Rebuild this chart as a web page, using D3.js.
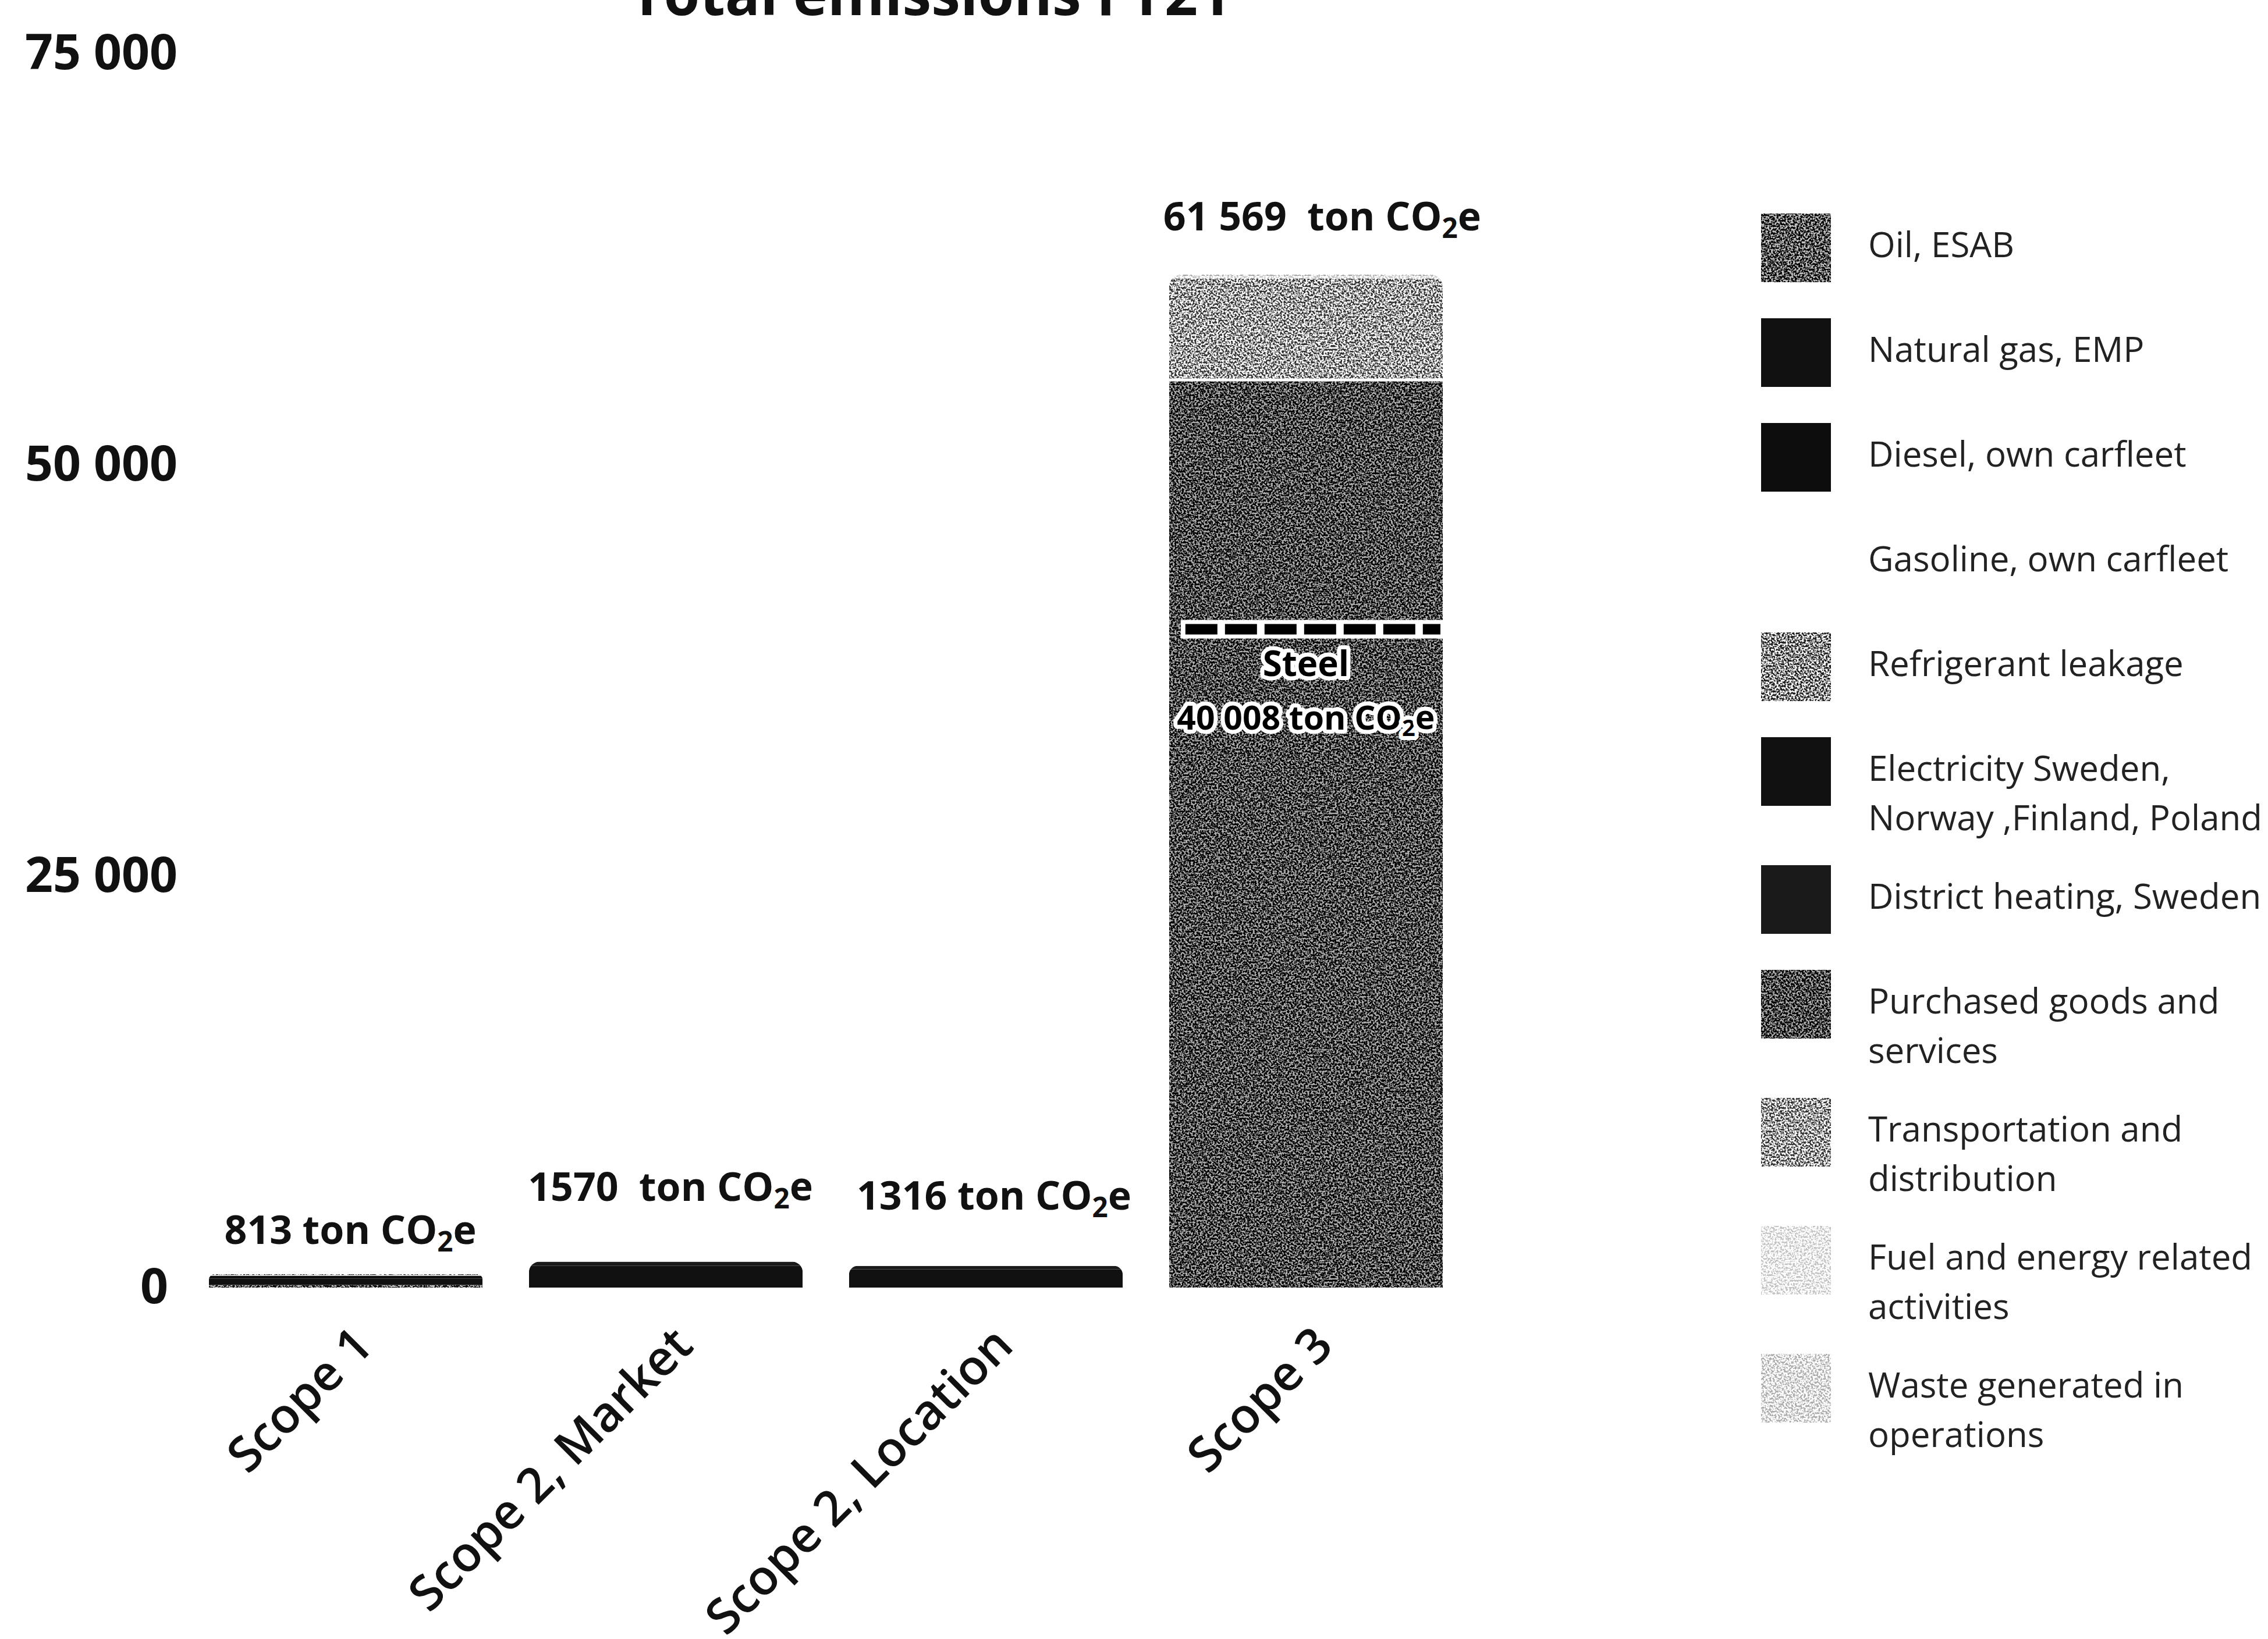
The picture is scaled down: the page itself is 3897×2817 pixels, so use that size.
<!DOCTYPE html>
<html>
<head>
<meta charset="utf-8">
<script src="https://cdn.jsdelivr.net/npm/d3@7"></script>
<style>
  html, body { margin: 0; padding: 0; background: #fff; }
  svg { display: block; font-family: "Open Sans", "Noto Sans", sans-serif; }
</style>
</head>
<body>
<svg id="chart"></svg>
<script>
// bars (x categories)
const scopes = ["Scope 1", "Scope 2, Market", "Scope 2, Location", "Scope 3"];

// one series per emission source, value per scope (ton CO2e)
const oilESAB        = [160, 0, 0, 0];
const naturalGasEMP  = [390, 0, 0, 0];
const dieselFleet    = [170, 0, 0, 0];
const gasolineFleet  = [45, 0, 0, 0];
const refrigerant    = [48, 0, 0, 0];
const electricity    = [0, 1330, 1110, 0];
const districtHeat   = [0, 240, 206, 0];
const purchasedGoods = [0, 0, 0, 55160];
const transportation = [0, 0, 0, 6150];
const fuelEnergy     = [0, 0, 0, 200];
const wasteOps       = [0, 0, 0, 59];

const categories = [
  "Oil, ESAB", "Natural gas, EMP", "Diesel, own carfleet", "Gasoline, own carfleet",
  "Refrigerant leakage", "Electricity Sweden, Norway ,Finland, Poland", "District heating, Sweden",
  "Purchased goods and services", "Transportation and distribution",
  "Fuel and energy related activities", "Waste generated in operations"
];
const seriesValues = [oilESAB, naturalGasEMP, dieselFleet, gasolineFleet, refrigerant,
  electricity, districtHeat, purchasedGoods, transportation, fuelEnergy, wasteOps];

// legend text, split as in the picture
const legendLines = [
  ["Oil, ESAB"], ["Natural gas, EMP"], ["Diesel, own carfleet"], ["Gasoline, own carfleet"],
  ["Refrigerant leakage"], ["Electricity Sweden,", "Norway ,Finland, Poland"], ["District heating, Sweden"],
  ["Purchased goods and", "services"], ["Transportation and", "distribution"],
  ["Fuel and energy related", "activities"], ["Waste generated in", "operations"]
];

const totalLabels = ["813", "1570 ", "1316", "61 569 "];
const steelValue = 40008;
const steelLabel = "40 008";

const yTicks = [0, 25000, 50000, 75000];
const yTickLabels = ["0", "25 000", "50 000", "75 000"];

const titleText = "Total emissions FY21";

// ---- styles / layout ----
const colors = ["#505050", "#111111", "#0d0d0d", "#ffffff", "#8c8c8c", "#111111", "#1a1a1a",
  "#424242", "#a2a2a2", "#efefef", "#e4e4e4"];
// speckle strength per category (scanned look of the source)
const grain = [0.9, 0, 0, 0, 0.9, 0, 0, 0.85, 0.9, 0.35, 0.45];
const labelGap = [52, 105, 97, 76];
const labelShift = [8, 8, 14, 28];

const W = 3897, H = 2817;
const svg = d3.select("#chart").attr("width", W).attr("height", H);

const x = d3.scaleBand().domain(scopes).range([359, 2479]).paddingInner(0.145).paddingOuter(0);
const y = d3.scaleLinear().domain([0, 75000]).range([2213, 92]);

const rows = scopes.map((s, i) => {
  const r = { scope: s };
  categories.forEach((c, k) => { r[c] = seriesValues[k][i]; });
  return r;
});
const stacked = d3.stack().keys(categories)(rows);
const totals = rows.map(r => d3.sum(categories, c => r[c]));

const defs = svg.append("defs");

// noise filters
function makeGrain(id, k) {
  const f = defs.append("filter").attr("id", id)
    .attr("x", 0).attr("y", 0).attr("width", 1).attr("height", 1)
    .attr("color-interpolation-filters", "sRGB");
  f.append("feTurbulence").attr("type", "fractalNoise")
    .attr("baseFrequency", 0.32).attr("numOctaves", 2).attr("seed", 7).attr("result", "n");
  f.append("feColorMatrix").attr("in", "n").attr("type", "matrix")
    .attr("values", "1 0 0 0 0  1 0 0 0 0  1 0 0 0 0  0 0 0 0 1").attr("result", "g");
  const ct = f.append("feComponentTransfer").attr("in", "g").attr("result", "c");
  ["feFuncR", "feFuncG", "feFuncB"].forEach(fn =>
    ct.append(fn).attr("type", "linear").attr("slope", 5).attr("intercept", -2));
  f.append("feComposite").attr("in", "SourceGraphic").attr("in2", "c")
    .attr("operator", "arithmetic").attr("k1", 0).attr("k2", 1).attr("k3", k).attr("k4", -k / 2)
    .attr("result", "m");
  f.append("feComposite").attr("in", "m").attr("in2", "SourceGraphic").attr("operator", "in");
}
grain.forEach((k, i) => { if (k > 0) makeGrain("grain" + i, k); });
const grainAttr = k => grain[k] > 0 ? `url(#grain${k})` : null;

// title (cut at the top edge like the source)
svg.append("text")
  .attr("x", 1599).attr("y", 26)
  .attr("text-anchor", "middle")
  .attr("font-size", 100).attr("font-weight", 700)
  .attr("fill", "#111")
  .text(titleText);

// clip paths with rounded top corners
scopes.forEach((s, i) => {
  const x0 = x(s), w = x.bandwidth();
  const top = y(totals[i]), bot = y(0);
  const r = Math.min(22, (bot - top) * 0.4);
  const p = d3.path();
  p.moveTo(x0, bot);
  p.lineTo(x0, top + r);
  p.arcTo(x0, top, x0 + r, top, r);
  p.lineTo(x0 + w - r, top);
  p.arcTo(x0 + w, top, x0 + w, top + r, r);
  p.lineTo(x0 + w, bot);
  p.closePath();
  defs.append("clipPath").attr("id", "clip" + i).append("path").attr("d", p.toString());
});

const barsG = svg.append("g");
scopes.forEach((s, i) => {
  const g = barsG.append("g").attr("clip-path", `url(#clip${i})`);
  stacked.forEach((layer, k) => {
    const d = layer[i];
    const h = y(d[0]) - y(d[1]);
    if (h <= 0) return;
    g.append("rect")
      .attr("x", x(s)).attr("width", x.bandwidth())
      .attr("y", y(d[1])).attr("height", h)
      .attr("fill", colors[k])
      .attr("filter", grainAttr(k));
  });
  // white separators between big segments
  stacked.forEach((layer, k) => {
    const d = layer[i];
    const h = y(d[0]) - y(d[1]);
    if (h >= 30 && d[0] > 0) {
      g.append("line")
        .attr("x1", x(s)).attr("x2", x(s) + x.bandwidth())
        .attr("y1", y(d[0])).attr("y2", y(d[0]))
        .attr("stroke", "#fff").attr("stroke-width", 5);
    }
  });
});

// steel marker inside Scope 3
const s3 = scopes[3];
const sy = y(steelValue);
const steelG = svg.append("g");
steelG.append("line")
  .attr("x1", x(s3) + 20).attr("x2", x(s3) + x.bandwidth())
  .attr("y1", sy).attr("y2", sy)
  .attr("stroke", "#fff").attr("stroke-width", 32);
steelG.append("line")
  .attr("x1", x(s3) + 28).attr("x2", x(s3) + x.bandwidth() - 4)
  .attr("y1", sy).attr("y2", sy)
  .attr("stroke", "#000").attr("stroke-width", 18)
  .attr("stroke-dasharray", "55 13");
const scx = x(s3) + x.bandwidth() / 2;
function haloText(g, ty, size) {
  return g.append("text")
    .attr("x", scx).attr("y", ty)
    .attr("text-anchor", "middle")
    .attr("font-size", size).attr("font-weight", 700)
    .attr("fill", "#000")
    .attr("stroke", "#fff").attr("stroke-width", 14)
    .attr("stroke-linejoin", "round")
    .attr("paint-order", "stroke");
}
haloText(steelG, sy + 80, 60).text("Steel");
const st = haloText(steelG, sy + 172, 57);
st.append("tspan").text(steelLabel + " ton CO");
st.append("tspan").attr("font-size", "70%").attr("dy", "0.28em").text("2");
st.append("tspan").attr("dy", "-0.2em").text("e");

// value labels above the bars
scopes.forEach((s, i) => {
  const t = svg.append("text")
    .attr("x", x(s) + x.bandwidth() / 2 + labelShift[i])
    .attr("y", y(totals[i]) - labelGap[i])
    .attr("text-anchor", "middle")
    .attr("font-size", 68).attr("font-weight", 700)
    .attr("fill", "#111")
    .style("white-space", "pre");
  t.append("tspan").text(totalLabels[i] + " ton CO");
  t.append("tspan").attr("font-size", "70%").attr("dy", "0.28em").text("2");
  t.append("tspan").attr("dy", "-0.2em").text("e");
});

// y axis (labels only)
const yAxis = svg.append("g")
  .attr("transform", "translate(305,0)")
  .call(d3.axisLeft(y).tickValues(yTicks).tickFormat((d, i) => yTickLabels[i]).tickSize(0).tickPadding(0));
yAxis.select(".domain").remove();
yAxis.selectAll("text")
  .attr("font-family", "'Open Sans', sans-serif")
  .attr("font-size", 84).attr("font-weight", 700).attr("fill", "#111")
  .attr("dx", d => d === 0 ? -16 : 0);

// x axis, rotated labels
const xAxis = svg.append("g")
  .attr("transform", `translate(0,${y(0)})`)
  .call(d3.axisBottom(x).tickSize(0));
xAxis.select(".domain").remove();
xAxis.selectAll("text")
  .attr("x", 0).attr("y", 0).attr("dy", "0.35em")
  .attr("transform", "translate(30,83) rotate(-45)")
  .attr("text-anchor", "end")
  .attr("font-family", "'Open Sans', sans-serif")
  .attr("font-size", 84).attr("font-weight", 600).attr("fill", "#111");

// legend
const legend = svg.append("g");
let ly = 421;
categories.forEach((c, k) => {
  const lines = legendLines[k];
  const g = legend.append("g");
  if (colors[k] !== "#ffffff") {
    g.append("rect")
      .attr("x", 3026).attr("y", ly + 5 - 59)
      .attr("width", 120).attr("height", 118)
      .attr("fill", colors[k])
      .attr("filter", grainAttr(k));
  }
  lines.forEach((ln, j) => {
    g.append("text")
      .attr("x", 3210).attr("y", ly + j * 85)
      .attr("dy", "0.35em")
      .attr("font-size", 60).attr("font-weight", 400)
      .attr("fill", "#222")
      .text(ln);
  });
  ly += lines.length > 1 ? 220 : 180;
});
</script>
</body>
</html>
